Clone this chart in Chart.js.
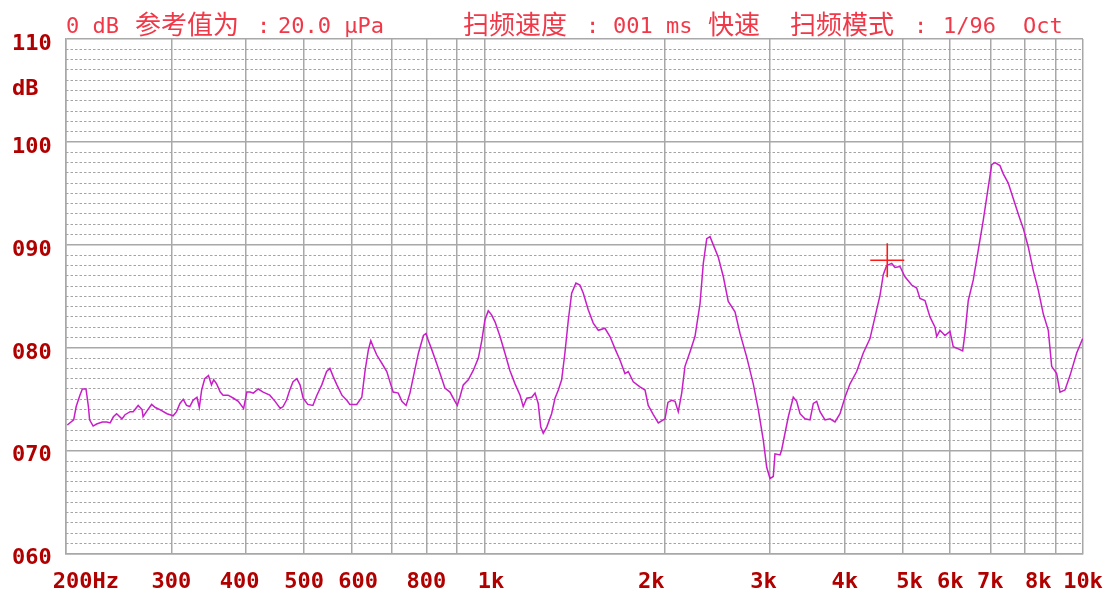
<!DOCTYPE html>
<html>
<head>
<meta charset="utf-8">
<script src="https://cdn.jsdelivr.net/npm/chart.js@4.4.1/dist/chart.umd.min.js"></script>
<style>
html,body{margin:0;padding:0;background:#ffffff;}
#wrap{width:1110px;height:595px;}
</style>
</head>
<body>
<div id="wrap"><canvas id="c" width="1110" height="595"></canvas></div>
<script>
// ---------------- data ----------------
const freqsHz = [201,206,208,211,213,216,218,219,222,225,230,234,237,240,243,248,251,256,259,264,268,269,274,278,282,287,295,302,306,310,314,318,322,326,331,334,337,341,346,350,353,357,362,366,373,381,388,396,401,406,411,419,427,438,447,456,461,467,473,479,486,492,498,507,517,525,535,545,552,559,567,578,589,596,612,624,632,640,646,652,661,674,687,697,704,718,728,740,751,761,776,791,799,806,817,832,849,859,876,893,901,910,922,940,958,977,990,1002,1015,1028,1042,1062,1082,1103,1125,1147,1161,1177,1200,1215,1230,1242,1254,1271,1295,1312,1329,1346,1363,1381,1399,1422,1444,1463,1491,1520,1550,1590,1621,1653,1685,1717,1739,1773,1819,1855,1878,1915,1952,1990,2003,2026,2055,2082,2108,2136,2163,2205,2248,2292,2321,2352,2382,2412,2459,2507,2555,2622,2673,2743,2813,2868,2924,2962,3000,3038,3058,3118,3138,3178,3219,3281,3324,3367,3432,3499,3544,3590,3636,3707,3779,3852,3927,4003,4081,4187,4295,4407,4493,4580,4638,4699,4791,4852,4946,5042,5174,5274,5341,5445,5551,5659,5696,5768,5880,5995,6071,6189,6295,6351,6432,6557,6684,6814,6946,7038,7127,7266,7359,7501,7647,7796,7947,8102,8259,8420,8583,8750,8865,9037,9153,9331,9512,9760,9988];
const levelsDb = [72.5,73.0,74.3,75.4,76.0,76.0,74.3,73.0,72.4,72.6,72.8,72.8,72.7,73.3,73.6,73.1,73.5,73.8,73.8,74.4,74.0,73.3,74.0,74.5,74.2,74.0,73.6,73.4,73.8,74.6,75.0,74.4,74.3,74.9,75.2,74.2,75.9,77.0,77.3,76.4,76.9,76.5,75.7,75.4,75.4,75.1,74.8,74.1,75.7,75.7,75.6,76.0,75.7,75.4,74.8,74.1,74.3,74.9,75.9,76.7,77.0,76.4,75.1,74.5,74.4,75.4,76.4,77.7,78.0,77.2,76.4,75.4,74.9,74.5,74.5,75.2,77.8,79.8,80.7,80.1,79.3,78.5,77.7,76.5,75.7,75.6,74.8,74.4,75.6,77.2,79.5,81.2,81.4,80.7,79.8,78.5,77.0,76.1,75.7,74.8,74.4,75.2,76.4,76.9,77.8,79.0,80.7,82.7,83.6,83.2,82.5,81.1,79.5,77.8,76.5,75.4,74.3,75.1,75.2,75.6,74.6,72.3,71.7,72.3,73.6,75.1,75.9,76.9,79.5,82.7,85.3,86.3,86.1,85.3,83.7,82.4,81.7,81.9,81.1,79.9,78.8,77.5,77.7,76.7,76.2,75.9,74.4,73.5,72.7,73.0,73.1,74.7,74.9,74.8,73.8,75.6,78.2,79.6,81.1,84.3,88.2,90.6,90.8,90.0,88.8,86.9,84.5,83.5,81.4,79.1,76.5,74.0,71.0,68.4,67.3,67.5,69.7,69.6,70.1,71.7,73.3,75.2,74.8,73.6,73.1,73.0,74.6,74.8,73.8,73.0,73.1,72.8,73.6,75.2,76.5,77.7,79.5,80.9,83.0,85.1,87.1,88.0,88.2,87.8,87.9,86.9,86.1,85.8,84.8,84.6,83.0,82.0,81.1,81.7,81.2,81.6,80.1,79.9,79.7,81.4,84.6,86.6,89.5,92.4,95.6,97.8,98.0,97.7,96.9,96.0,94.5,93.0,91.6,89.8,87.5,85.6,83.3,81.7,78.2,77.5,75.7,75.9,77.3,79.5,80.9];
const markerFreq = [4710];
const markerLevel = [88.5];

const xGridFreqs = [200,300,400,500,600,700,800,900,1000,2000,3000,4000,5000,6000,7000,8000,9000,10000];
const xTickFreqs = [200,300,400,500,600,800,1000,2000,3000,4000,5000,6000,7000,8000,10000];
const xTickLabels = ['200Hz','300','400','500','600','800','1k','2k','3k','4k','5k','6k','7k','8k','10k'];
const yTickValues = [60,70,80,90,100,110];
const yTickLabels = ['060','070','080','090','100','110'];
const yUnitLabel = 'dB';
const titleTexts = ['0 dB','参考值为',':','20.0 μPa','扫频速度',':','001 ms','快速','扫频模式',':','1/96','Oct'];

// ---------------- styling / layout ----------------
const titleX = [66,135,257,278,463,586,613,708,790,914,943,1023];
const xLabelNudge = {'200Hz':[3,0],'400':[0,1],'600':[1,0],'1k':[1,0],'2k':[0,2],'3k':[0,1],'5k':[1,0],'8k':[2,0]};
const AXIS_RED = '#b00000';
const TITLE_RED = '#f03848';
const GRID = '#a8a8a8';
const MONO = '"DejaVu Sans Mono", "Liberation Mono", monospace';
const CJK = '"Noto Sans CJK SC", "Noto Sans CJK JP", sans-serif';

const minorTicks = [];
for (let v = 60; v <= 110; v++) minorTicks.push(v);

const overlay = {
  id: 'overlay',
  afterDraw(chart) {
    const ctx = chart.ctx;
    ctx.save();
    ctx.textAlign = 'left';
    ctx.textBaseline = 'alphabetic';
    ctx.fillStyle = TITLE_RED;
    titleTexts.forEach((t, i) => {
      const isCjk = /[\u3400-\u9fff]/.test(t);
      ctx.font = isCjk ? '26px ' + CJK : '22px ' + MONO;
      ctx.fillText(t, titleX[i], isCjk ? 34 : 33);
    });
    ctx.fillStyle = AXIS_RED;
    ctx.font = 'bold 22px ' + MONO;
    ctx.fillText(yUnitLabel, 12, 95);
    ctx.restore();
  }
};

const lineData = freqsHz.map((f, i) => ({x: f, y: levelsDb[i]}));
const markerData = markerFreq.map((f, i) => ({x: f, y: markerLevel[i]}));

new Chart(document.getElementById('c'), {
  type: 'line',
  data: {
    datasets: [
      {
        data: markerData,
        showLine: false,
        pointStyle: 'cross',
        pointRadius: 17,
        pointBorderColor: '#ff1a1a',
        pointBorderWidth: 1.6,
        pointBackgroundColor: '#ff1a1a'
      },
      {
        data: lineData,
        borderColor: '#c81ec8',
        borderWidth: 1.5,
        pointRadius: 0,
        fill: false,
        tension: 0
      }
    ]
  },
  options: {
    responsive: false,
    devicePixelRatio: 1,
    animation: false,
    events: [],
    layout: {padding: {left: 12, right: 27, top: 39, bottom: 0}},
    plugins: {legend: {display: false}, tooltip: {enabled: false}, title: {display: false}},
    scales: {
      x: {
        type: 'logarithmic',
        position: 'bottom',
        min: 200,
        max: 10000,
        afterBuildTicks: s => { s.ticks = xGridFreqs.map(v => ({value: v})); },
        afterFit: s => { s.height = 41.3; },
        grid: {color: GRID, lineWidth: 1.5, drawTicks: true, tickLength: 15, tickColor: 'rgba(0,0,0,0)'},
        border: {display: true, color: GRID, width: 1.5},
        ticks: {
          autoSkip: false, maxRotation: 0, minRotation: 0, padding: 0,
          color: AXIS_RED,
          font: {family: MONO, size: 22, weight: 'bold'},
          callback: v => {
            const k = xTickFreqs.indexOf(v);
            if (k < 0) return '';
            const lab = xTickLabels[k];
            const n = xLabelNudge[lab] || [0, 0];
            return ' '.repeat(n[0]) + lab + ' '.repeat(n[1]);
          }
        }
      },
      y: {
        type: 'linear',
        position: 'left',
        min: 60,
        max: 110,
        afterBuildTicks: s => { s.ticks = yTickValues.map(v => ({value: v})); },
        afterFit: s => { s.width = 54; },
        grid: {color: GRID, lineWidth: 1.5, drawTicks: false},
        border: {display: true, color: GRID, width: 1.5},
        ticks: {
          autoSkip: false, crossAlign: 'far', labelOffset: 5, padding: 0,
          color: AXIS_RED,
          font: {family: MONO, size: 22, weight: 'bold'},
          callback: v => {
            const k = yTickValues.indexOf(v);
            return k < 0 ? '' : yTickLabels[k];
          }
        }
      },
      yMinor: {
        type: 'linear',
        position: 'left',
        min: 60,
        max: 110,
        afterBuildTicks: s => { s.ticks = minorTicks.map(v => ({value: v})); },
        afterFit: s => { s.width = 0; },
        grid: {
          color: c => (c.tick && c.tick.value % 10 === 0) ? 'rgba(0,0,0,0)' : '#a4a4a4',
          lineWidth: 1,
          drawTicks: false
        },
        border: {display: false, dash: [2.5, 2]},
        ticks: {display: false}
      }
    }
  },
  plugins: [overlay]
});
</script>
</body>
</html>
